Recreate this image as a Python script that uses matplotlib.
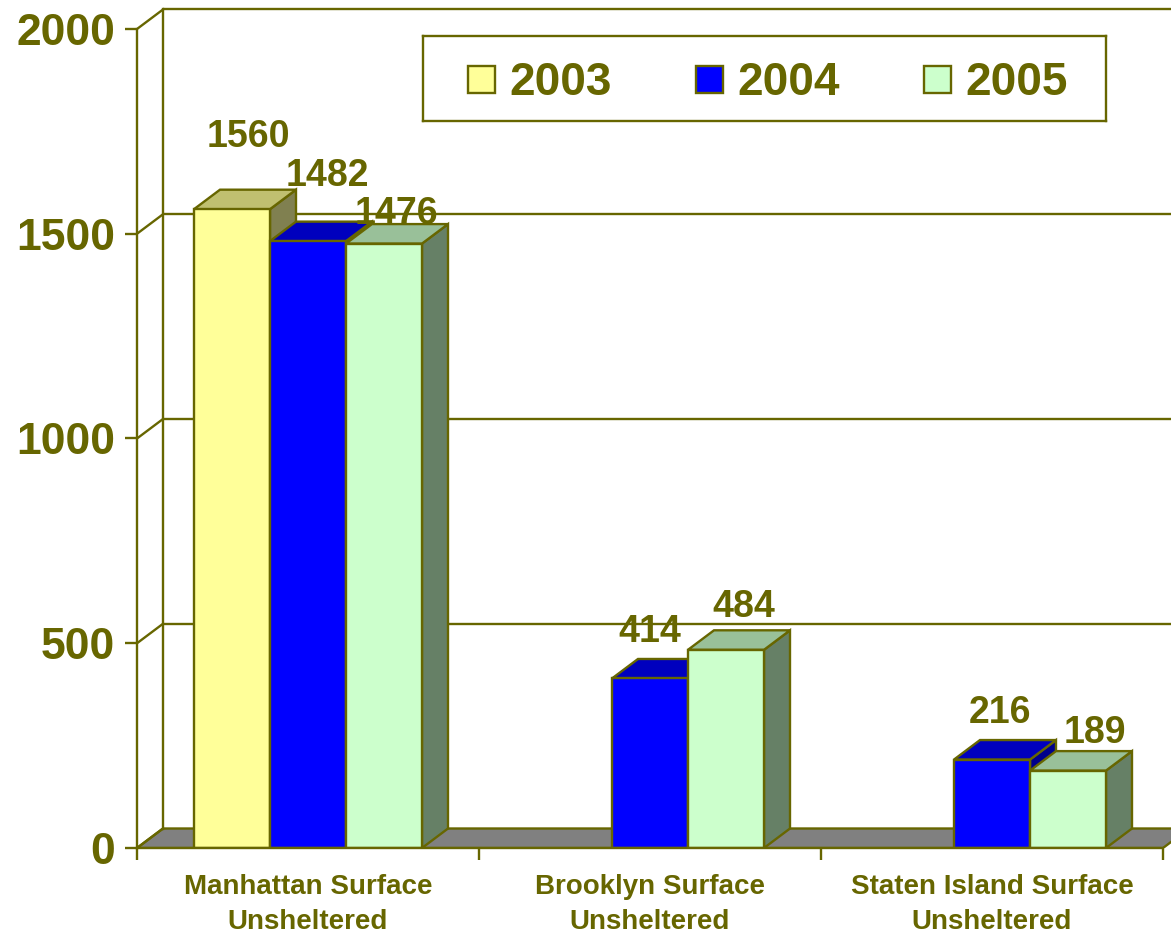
import numpy as np
import matplotlib
matplotlib.use("Agg")
import matplotlib.pyplot as plt
from matplotlib.patches import Polygon, Rectangle

plt.rcParams["font.family"] = ["Liberation Sans", "DejaVu Sans"]

# ---- data ----
categories = ["Manhattan Surface\nUnsheltered",
              "Brooklyn Surface\nUnsheltered",
              "Staten Island Surface\nUnsheltered"]
series_names = ["2003", "2004", "2005"]
values_2003 = [1560, np.nan, np.nan]
values_2004 = [1482, 414, 216]
values_2005 = [1476, 484, 189]
y_ticks = [0, 500, 1000, 1500, 2000]

series = [values_2003, values_2004, values_2005]

# ---- styles ----
OLIVE = "#676600"
FLOOR = "#808080"
front_colors = ["#FFFF99", "#0000FF", "#CCFFCC"]
top_colors = ["#C0C070", "#0000BE", "#99C099"]
side_colors = ["#808050", "#00008C", "#668066"]
LW = 1.7

# value label offsets (pixels) from the top-front centre of each bar
label_dx = [[16, 0, 0], [19, 0, 8], [12, 18, 27]]
label_dy = [[62, 0, 0], [55, 36, 37], [20, 33, 28]]

# ---- layout ----
W, H = 1171, 936
x0_px, y0_px = 137, 848          # origin of the front plane
px_per_cat = 342
px_per_val = (848 - 29) / 2000
DX = 26 / px_per_cat             # depth offset of the 3-D box, x units
DY = 19.5 / px_per_val           # depth offset, value units

fig = plt.figure(figsize=(W / 100, H / 100), dpi=100)
ax = fig.add_axes([x0_px / W, (H - y0_px) / H, (W - x0_px) / W, y0_px / H])
xmax = (W - x0_px) / px_per_cat
ax.set_xlim(0, xmax)
ax.set_ylim(0, y0_px / px_per_val)
ax.set_facecolor("white")

n_cat = len(categories)
ymax = y_ticks[-1]

# floor
ax.add_patch(Polygon([(0, 0), (n_cat, 0), (n_cat + DX, DY), (DX, DY)],
                     closed=True, facecolor=FLOOR, edgecolor=OLIVE,
                     linewidth=LW, zorder=1))
# back wall gridlines and side wall diagonals
for v in y_ticks[1:]:
    ax.plot([DX, xmax + 1], [v + DY, v + DY], color=OLIVE, lw=LW, zorder=1.5,
            solid_capstyle="butt")
for v in y_ticks:
    ax.plot([0, DX], [v, v + DY], color=OLIVE, lw=LW, zorder=1.5)
ax.plot([DX, DX], [DY, ymax + DY], color=OLIVE, lw=LW, zorder=1.5)

# bars
n_series = len(series)
bar_w = 1 / (n_series + 1.5)
x_idx = np.arange(n_cat)
for j, vals in enumerate(series):
    vals = np.asarray(vals, dtype=float)
    ok = np.isfinite(vals)
    xs = x_idx[ok] + 0.5 + (j - (n_series - 1) / 2) * bar_w
    bars = ax.bar(xs, vals[ok], width=bar_w, color=front_colors[j],
                  edgecolor=OLIVE, linewidth=LW, zorder=10)
    for b, ci in zip(bars, x_idx[ok]):
        left = b.get_x()
        right = left + b.get_width()
        h = b.get_height()
        z = 2 + 0.01 * left
        ax.add_patch(Polygon([(right, 0), (right + DX, DY), (right + DX, h + DY), (right, h)],
                             closed=True, facecolor=side_colors[j], edgecolor=OLIVE,
                             linewidth=LW, zorder=z))
        ax.add_patch(Polygon([(left, h), (right, h), (right + DX, h + DY), (left + DX, h + DY)],
                             closed=True, facecolor=top_colors[j], edgecolor=OLIVE,
                             linewidth=LW, zorder=z + 0.001))
        ax.annotate(f"{h:.0f}", xy=(left + b.get_width() / 2, h),
                    xytext=(label_dx[j][ci], label_dy[j][ci]), textcoords="offset pixels",
                    ha="center", va="baseline", fontsize=27, fontweight="bold",
                    color=OLIVE, zorder=20, annotation_clip=False)

# axes
for s in ["top", "right"]:
    ax.spines[s].set_visible(False)
for s in ["left", "bottom"]:
    ax.spines[s].set_color(OLIVE)
    ax.spines[s].set_linewidth(LW)
    ax.spines[s].set_zorder(12)
ax.spines["left"].set_bounds(0, ymax)
ax.spines["bottom"].set_bounds(0, n_cat)

ax.set_yticks(y_ticks)
ax.set_yticklabels([str(v) for v in y_ticks], fontsize=32, fontweight="bold", color=OLIVE)
ax.tick_params(axis="y", direction="out", length=12 * 0.72, width=LW, color=OLIVE, pad=7)

ax.set_xticks(np.arange(n_cat + 1))
ax.set_xticklabels([])
ax.set_xticks(x_idx + 0.5, minor=True)
ax.set_xticklabels(categories, minor=True, fontsize=20, fontweight="bold", color=OLIVE)
ax.tick_params(axis="x", which="major", direction="out", length=12 * 0.72, width=LW, color=OLIVE)
ax.tick_params(axis="x", which="minor", length=0, pad=19)
for t in ax.get_xticklabels(minor=True):
    t.set_linespacing(1.45)

# legend box
lax = fig.add_axes([423 / W, (H - 121) / H, 683 / W, 85 / H])
lax.set_xlim(0, 683)
lax.set_ylim(0, 85)
lax.set_xticks([])
lax.set_yticks([])
for s in lax.spines.values():
    s.set_color(OLIVE)
    s.set_linewidth(LW)
for k, name in enumerate(series_names):
    lax.add_patch(Rectangle((45 + 228 * k, 28), 27, 27, facecolor=front_colors[k],
                            edgecolor=OLIVE, linewidth=LW))
    lax.text(86 + 228 * k, 26, name, fontsize=33, fontweight="bold", color=OLIVE,
             ha="left", va="baseline")

fig.savefig("out.png", dpi=100)
